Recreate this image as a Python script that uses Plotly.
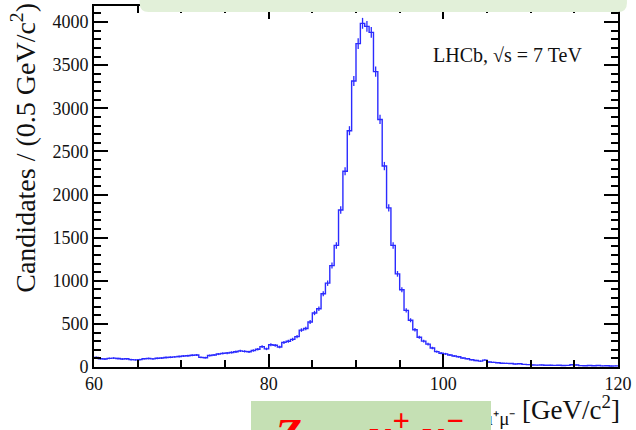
import numpy as np
import plotly.graph_objects as go

# ---- data ----
bin_low = 60.0
bin_width = 0.5
counts = [
    # 60-65
    112, 96, 92, 100, 103, 98, 92, 95, 86, 83,
    # 65-70
    85, 96, 99, 94, 101, 104, 110, 113, 117, 121,
    # 70-75
    127, 131, 136, 139, 112, 108, 134, 139, 150, 158,
    # 75-80
    162, 169, 177, 187, 181, 176, 191, 205, 236, 210,
    # 80-85
    258, 252, 232, 285, 298, 320, 352, 428, 446, 522,
    # 85-90
    626, 676, 850, 972, 1176, 1410, 1820, 2270, 2740, 3317,
    # 90-95
    3750, 3985, 3950, 3880, 3425, 2870, 2330, 1845, 1410, 1080,
    # 95-100
    896, 657, 542, 432, 345, 300, 265, 220, 178, 160,
    # 100-105
    152, 140, 128, 118, 104, 96, 84, 76, 68, 80,
    # 105-110
    58, 54, 50, 44, 42, 40, 34, 38, 30, 28,
    # 110-115
    24, 22, 24, 20, 21, 19, 20, 18, 19, 26,
    # 115-120
    24, 16, 15, 17, 14, 18, 13, 14, 12, 13,
]
x_tick_vals = [60, 80, 100, 120]
y_tick_vals = [0, 500, 1000, 1500, 2000, 2500, 3000, 3500, 4000]
y_title = "Candidates / (0.5 GeV/c<sup>2</sup>)"
x_title = "M<sub>μ⁺μ⁻</sub> [GeV/c<sup>2</sup>]"
label_text = "LHCb, √s = 7 TeV"
banner_text = "<b><i>Z → μ<sup>+</sup> μ<sup>−</sup></i></b>"

counts = np.array(counts, dtype=float)
n = len(counts)
edges = bin_low + bin_width * np.arange(n + 1)
centers = edges[:-1] + bin_width / 2
errors = np.sqrt(counts)

W, H = 636, 430
L, R, T, B = 94, 14, 4, 63
pw, ph = W - L - R, H - T - B


def px(xp):
    return (xp - L) / pw


def py(yp):
    return (H - B - yp) / ph


serif = "Liberation Serif"
blue = "#2b2bff"

fig = go.Figure()
fig.add_trace(go.Scatter(
    x=edges, y=np.append(counts, counts[-1]),
    mode="lines", line=dict(color=blue, width=1.4, shape="hv"),
    hoverinfo="skip", showlegend=False,
))
fig.add_trace(go.Scatter(
    x=centers, y=counts, mode="markers",
    marker=dict(size=1, color=blue, opacity=0),
    error_y=dict(type="data", array=errors, visible=True,
                 color=blue, thickness=1.3, width=0),
    hoverinfo="skip", showlegend=False,
))

axis_common = dict(
    showline=True, linecolor="black", linewidth=1.6,
    mirror="ticks", ticks="inside", tickcolor="black", tickwidth=1.6,
    showgrid=False, zeroline=False,
    tickfont=dict(family=serif, size=18, color="#111"),
)
fig.update_xaxes(
    range=[60, 120], tickvals=x_tick_vals, ticklen=13,
    minor=dict(dtick=5, tick0=60, ticks="inside", ticklen=7,
               tickcolor="black", tickwidth=1.6, showgrid=False),
    **axis_common,
)
fig.update_yaxes(
    range=[0, 4186], tickvals=y_tick_vals, ticklen=14,
    minor=dict(dtick=100, tick0=0, ticks="inside", ticklen=7,
               tickcolor="black", tickwidth=1.6, showgrid=False),
    **axis_common,
)

# top banner (rounded box)
x0, x1 = px(140), px(631)
yb, yt = py(10), py(-12)
rx, ry = 9 / pw, 9 / ph
path = (f"M {x0},{yt} L {x0},{yb + ry} Q {x0},{yb} {x0 + rx},{yb} "
        f"L {x1 - rx},{yb} Q {x1},{yb} {x1},{yb + ry} L {x1},{yt} Z")

fig.update_layout(
    width=W, height=H,
    margin=dict(l=L, r=R, t=T, b=B, pad=0),
    paper_bgcolor="white", plot_bgcolor="white",
    shapes=[dict(type="path", xref="paper", yref="paper", path=path,
                 fillcolor="#e2f0d9", line=dict(width=0), layer="above")],
    annotations=[
        dict(text=label_text, xref="paper", yref="paper",
             x=px(434), y=py(53), xanchor="left", yanchor="middle",
             showarrow=False, font=dict(family=serif, size=20, color="#111")),
        dict(text=y_title, xref="paper", yref="paper", textangle=-90,
             x=px(23), y=py(147), xanchor="center", yanchor="middle",
             showarrow=False, font=dict(family=serif, size=28, color="#111")),
        dict(text=x_title, xref="paper", yref="paper",
             x=px(626), y=py(410), xanchor="right", yanchor="middle",
             showarrow=False, font=dict(family=serif, size=27, color="#111")),
        dict(text=" ", xref="paper", yref="paper",
             x=px(252), y=py(401), xanchor="left", yanchor="top",
             width=240, height=70, borderpad=0, borderwidth=0,
             bgcolor="#c5e0b4", showarrow=False),
        dict(text=banner_text, xref="paper", yref="paper",
             x=px(273), y=py(402), xanchor="left", yanchor="top",
             showarrow=False, font=dict(family=serif, size=44, color="red")),
    ],
)

fig.write_html(
    "out.html",
    config={"displayModeBar": False},
    post_script="document.body.style.margin='0';document.body.style.padding='0';",
)
